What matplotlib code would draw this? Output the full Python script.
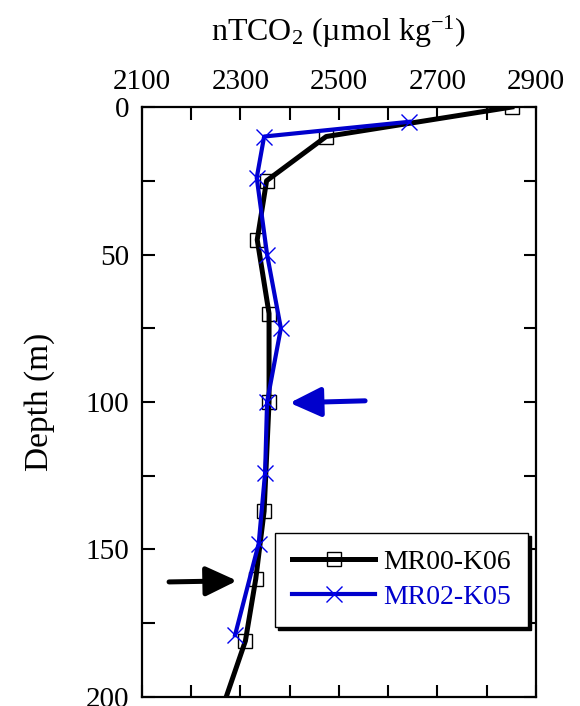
import matplotlib
matplotlib.use("Agg")
import matplotlib.pyplot as plt
from matplotlib.ticker import MultipleLocator

plt.rcParams["font.family"] = ["Liberation Serif", "DejaVu Serif"]
plt.rcParams["mathtext.fontset"] = "custom"
plt.rcParams["mathtext.rm"] = "Liberation Serif"
plt.rcParams["mathtext.it"] = "Liberation Serif:italic"

# MR00-K06 profile (last point only continues the line to the frame edge)
k06_tco2  = [2851, 2474, 2353, 2334, 2358, 2358, 2348, 2331, 2310, 2271]
k06_depth = [0, 10, 25, 45, 70, 100, 137, 160, 181, 200]

# MR02-K05 profile
k05_tco2  = [2643, 2348, 2333, 2354, 2382, 2354, 2350, 2337, 2289]
k05_depth = [5, 10, 24, 50, 75, 100, 124, 148, 179]

x_ticks = [2100, 2300, 2500, 2700, 2900]
y_ticks = [0, 50, 100, 150, 200]

# arrows: (tail x, tail depth, tip x, tip depth)
blue_arrow  = (2553, 99.6, 2400, 100.3)
black_arrow = (2155, 161.0, 2293, 160.6)

fig = plt.figure(figsize=(5.8, 7.06), dpi=100)
ax = fig.add_axes([0.2448, 0.0128, 0.6793, 0.8356])

ax.plot(k06_tco2, k06_depth, color="black", lw=3.6, marker="s", ms=10,
        mfc="none", mec="black", mew=1.0, markevery=list(range(len(k06_tco2) - 1)),
        label="MR00-K06", zorder=3)
ax.plot(k05_tco2, k05_depth, color="#0000cc", lw=3.0, marker="x", ms=11,
        mec="#0000ee", mew=1.0, label="MR02-K05", zorder=4)

for (x0, y0, x1, y1), c in [(blue_arrow, "#0000cc"), (black_arrow, "black")]:
    ax.annotate("", xy=(x1, y1), xytext=(x0, y0),
                arrowprops=dict(arrowstyle="-|>,head_length=1.9,head_width=0.9",
                                color=c, lw=3.6, shrinkA=0, shrinkB=0),
                annotation_clip=False)

ax.set_xlim(2100, 2900)
ax.set_ylim(200, 0)
ax.set_xticks(x_ticks)
ax.xaxis.set_minor_locator(MultipleLocator(100))
ax.set_yticks(y_ticks)
ax.yaxis.set_minor_locator(MultipleLocator(25))
ax.xaxis.tick_top()
ax.xaxis.set_label_position("top")
ax.tick_params(which="both", direction="in", top=True, bottom=True,
               left=True, right=True, width=1.5, labelsize=21)
ax.tick_params(which="major", length=9, pad=9)
ax.tick_params(which="minor", length=9)
for s in ax.spines.values():
    s.set_linewidth(1.6)

ax.set_xlabel(r"nTCO$_2$ (µmol kg$^{\mathregular{-1}}$)", fontsize=23, labelpad=20)
ax.set_ylabel("Depth (m)", fontsize=24, labelpad=22)

leg = ax.legend(loc="lower right", bbox_to_anchor=(0.98, 0.119), fontsize=20,
                handlelength=3.0, frameon=True, fancybox=False,
                shadow={"color": "black", "alpha": 1.0, "ox": 2, "oy": -2},
                borderpad=0.6, labelspacing=0.35, handletextpad=0.3,
                borderaxespad=0, edgecolor="black")
leg.get_frame().set_linewidth(1.0)
leg.get_texts()[1].set_color("#0000cc")

fig.savefig("out.png", dpi=100)
